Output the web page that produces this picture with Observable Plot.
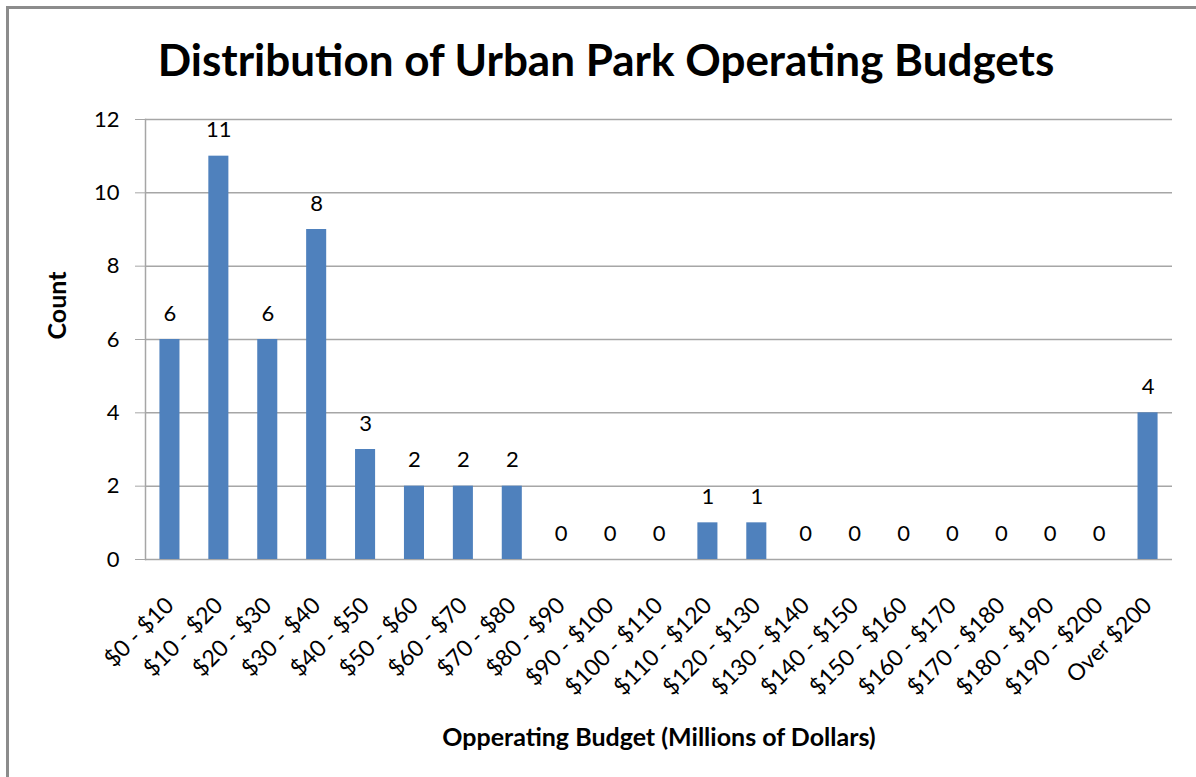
<!DOCTYPE html>
<html>
<head>
<meta charset="utf-8">
<script src="https://cdn.jsdelivr.net/npm/d3@7"></script>
<script src="https://cdn.jsdelivr.net/npm/@observablehq/plot@0.6"></script>
<style>
  html, body { margin: 0; padding: 0; background: #fff; }
  #wrap { position: relative; width: 1196px; height: 777px; overflow: hidden; font-family: Lato, "Open Sans", sans-serif; }
  #frame { position: absolute; left: 6px; top: 6px; width: 1200px; height: 800px; border-top: 3px solid #8c8c8c; border-left: 3px solid #8c8c8c; box-sizing: border-box; }
  #title { position: absolute; left: 8px; top: 0; width: 1196px; height: 100px; line-height: 118px; text-align: center; font-weight: bold; font-size: 44px; color: #000; }
  #chart { position: absolute; left: 0; top: 100px; }
</style>
</head>
<body>
<div id="wrap">
  <div id="frame"></div>
  <div id="title">Distribution of Urban Park Operating Budgets</div>
  <div id="chart"></div>
</div>
<script>
const categories = ["$0 - $10", "$10 - $20", "$20 - $30", "$30 - $40", "$40 - $50", "$50 - $60", "$60 - $70", "$70 - $80", "$80 - $90", "$90 - $100", "$100 - $110", "$110 - $120", "$120 - $130", "$130 - $140", "$140 - $150", "$150 - $160", "$160 - $170", "$170 - $180", "$180 - $190", "$190 - $200", "Over $200"];
const counts = [6, 11, 6, 9, 3, 2, 2, 2, 0, 0, 0, 1, 1, 0, 0, 0, 0, 0, 0, 0, 4];
const labels = [6, 11, 6, 8, 3, 2, 2, 2, 0, 0, 0, 1, 1, 0, 0, 0, 0, 0, 0, 0, 4];
const yTicks = [0, 2, 4, 6, 8, 10, 12];
const yTitle = "Count";
const xTitle = "Opperating Budget (Millions of Dollars)";

const data = categories.map((c, i) => ({category: c, count: counts[i], label: labels[i]}));

const chart = Plot.plot({
  width: 1196,
  height: 677,
  marginLeft: 145,
  marginRight: 24,
  marginTop: 19,
  marginBottom: 218,
  style: {fontFamily: "Lato, 'Open Sans', sans-serif", fontSize: "22px", color: "#000", background: "transparent", overflow: "visible"},
  x: {domain: categories, paddingInner: 0.59, paddingOuter: 0.295, round: false},
  y: {domain: [0, 12]},
  marks: [
    Plot.gridY(yTicks, {stroke: "#a6a6a6", strokeOpacity: 1, strokeWidth: 1.5}),
    Plot.frame({anchor: "left", stroke: "#a6a6a6", strokeWidth: 1.5}),
    Plot.barY(data, {x: "category", y: "count", fill: "#4F81BD"}),
    Plot.text(data, {x: "category", y: "count", text: "label", dy: -26, fontSize: 22, fill: "#000"}),
    Plot.axisY(yTicks, {tickSize: 10, tickPadding: 16, stroke: "#a6a6a6", strokeOpacity: 1, fontSize: 22, label: null}),
    Plot.axisX({tickRotate: -45, tickSize: 0, tickPadding: 42, fontSize: 23, label: null}),
    Plot.text([yTitle], {text: d => d, frameAnchor: "left", dx: -88, rotate: -90, fontWeight: "bold", fontSize: 25, fill: "#000"}),
    Plot.text([xTitle], {text: d => d, frameAnchor: "bottom", dy: 186, fontWeight: "bold", fontSize: 25, fill: "#000"})
  ]
});
document.getElementById("chart").appendChild(chart);
</script>
</body>
</html>
